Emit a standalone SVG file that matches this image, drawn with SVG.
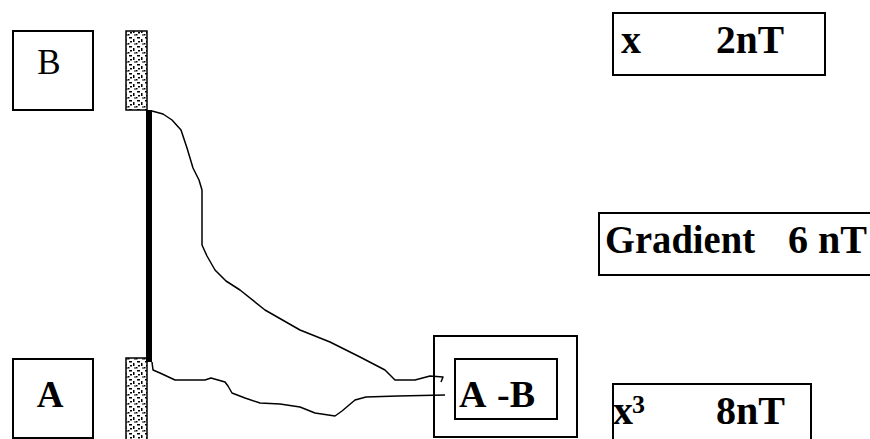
<svg xmlns="http://www.w3.org/2000/svg" width="870" height="439" viewBox="0 0 870 439">
<defs>
<style>
.box{fill:#fff;stroke:#000;stroke-width:2}
.strip{fill:url(#stip);stroke:#000;stroke-width:1.5}
.t{font-family:"Liberation Serif","Times New Roman",serif;fill:#000}
.b{font-weight:bold}
.wire{fill:none;stroke:#000;stroke-width:1.5;stroke-linejoin:round}
</style>
<pattern id="stip" width="8" height="9" patternUnits="userSpaceOnUse">
<rect width="8" height="9" fill="#fff"/>
<rect x="1" y="1" width="3" height="1.5" fill="#000"/>
<rect x="5" y="3" width="1.5" height="3" fill="#000"/>
<rect x="2" y="5" width="2" height="1.5" fill="#000"/>
<rect x="0" y="7" width="1.5" height="1.5" fill="#000"/>
<rect x="6" y="7.5" width="2" height="1" fill="#000"/>
</pattern>
</defs>
<g id="nodeB">
<rect class="box" x="13" y="31" width="80" height="79"/>
<text class="t" x="49" y="74" font-size="35" text-anchor="middle">B</text>
</g>
<g id="nodeA">
<rect class="box" x="13" y="359" width="80" height="79"/>
<text class="t b" x="50" y="407" font-size="37" text-anchor="middle">A</text>
</g>
<g id="sensor">
<rect class="strip" x="126" y="31" width="21" height="79"/>
<rect class="strip" x="126" y="358" width="21" height="82"/>
<rect x="146" y="110" width="6" height="252" fill="#000"/>
</g>
<g id="nodeAB">
<rect class="box" x="434" y="336" width="143" height="101"/>
<rect class="box" x="455" y="359" width="102" height="60"/>
<text class="t b" font-size="38" y="407"><tspan x="459">A</tspan><tspan x="497">-B</tspan></text>
</g>
<g id="nodeX">
<rect class="box" x="613" y="13" width="212" height="62"/>
<text class="t b" font-size="40" y="53"><tspan x="621">x</tspan><tspan x="716" textLength="68" lengthAdjust="spacingAndGlyphs">2nT</tspan></text>
</g>
<g id="nodeGradient">
<rect class="box" x="599" y="213" width="290" height="62"/>
<text class="t b" font-size="40" y="253"><tspan x="605" textLength="150" lengthAdjust="spacingAndGlyphs">Gradient</tspan><tspan x="788" textLength="79" lengthAdjust="spacingAndGlyphs">6 nT</tspan></text>
</g>
<g id="nodeX3">
<rect class="box" x="613" y="384" width="198" height="70"/>
<text class="t b" font-size="40" y="424"><tspan x="613">x</tspan><tspan x="632" y="413" font-size="26">3</tspan><tspan x="716" y="424" textLength="69" lengthAdjust="spacingAndGlyphs">8nT</tspan></text>
</g>
<g id="connectors">
<path class="wire" d="M152,111 L163,114 L172,120 L181,130 L187,148 L193,168 L199,180 L202,190 L202,245 L207,256 L215,270 L226,281 L240,290 L265,310 L300,330 L330,342 L360,357 L385,370 L395,380 L415,380 L430,376 L443,377 L441,382"/>
<path class="wire" d="M152,362 L153,370 L160,373 L175,380 L205,380 L211,378 L225,382 L228,386 L232,393 L245,398 L260,403 L280,404 L300,407 L315,413 L335,416 L342,411 L355,400 L366,397 L398,396 L445,395"/>
</g>
</svg>
